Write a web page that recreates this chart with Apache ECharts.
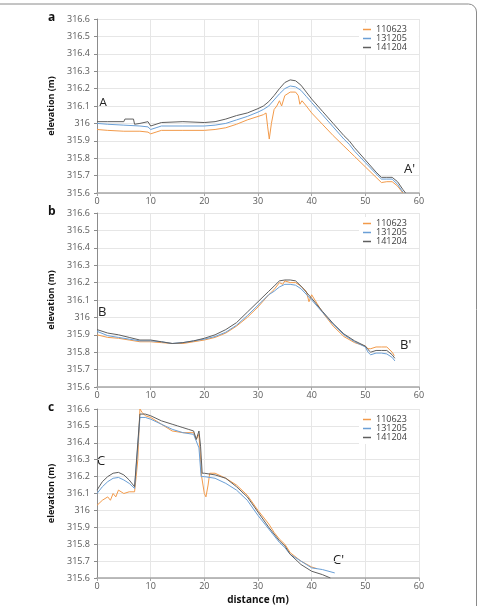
<!DOCTYPE html>
<html>
<head>
<meta charset="utf-8">
<script src="https://cdn.jsdelivr.net/npm/echarts@6/dist/echarts.min.js"></script>
<style>
  html, body { margin: 0; padding: 0; background: #fff; }
  #chart { width: 477px; height: 606px; }
</style>
</head>
<body>
<div id="chart"></div>
<script>
// series names (survey dates)
var names = ['110623', '131205', '141204'];
var colors = ['#f29a4a', '#6a9fd6', '#5f5f5f'];

// x axis ticks (distance, m) and y axis range (elevation, m)
var xTicks = [0, 10, 20, 30, 40, 50, 60];
var yMin = 315.6, yMax = 316.6, yStep = 0.1;

// profile A - A'  [distance, elevation]
var a110623 = [[0,315.965],[2,315.96],[5,315.955],[8,315.955],[9.5,315.95],[10,315.94],[11,315.95],[12,315.96],[16,315.96],[20,315.96],[22,315.965],[24,315.975],[26,315.995],[28,316.02],[30,316.04],[31,316.05],[31.5,316.06],[31.8,315.98],[32.1,315.91],[32.5,316.0],[33,316.08],[33.5,316.1],[34,316.13],[34.4,316.1],[35,316.16],[36,316.18],[37,316.18],[37.5,316.16],[37.8,316.11],[38.2,316.13],[39,316.1],[40,316.06],[42,315.995],[44,315.93],[46,315.87],[47,315.84],[48,315.81],[50,315.75],[52,315.69],[53,315.66],[54,315.665],[55,315.665],[56,315.64],[57,315.6]];
var a131205 = [[0,316.0],[2,315.995],[5,315.99],[8,315.985],[9.5,315.98],[10,315.965],[11,315.975],[12,315.985],[16,315.985],[20,315.985],[22,315.99],[24,316.0],[26,316.02],[28,316.04],[30,316.065],[31,316.08],[32,316.1],[33,316.135],[34,316.17],[35,316.2],[36,316.215],[37,316.21],[38,316.19],[39,316.155],[40,316.12],[42,316.05],[44,315.98],[46,315.91],[47,315.88],[48,315.84],[50,315.775],[52,315.71],[53,315.68],[54,315.68],[55,315.68],[56,315.65],[57,315.605]];
var a141204 = [[0,316.01],[2,316.01],[5,316.01],[5.2,316.025],[6.8,316.025],[7,315.995],[8,316.0],[9.5,316.01],[10,315.985],[11,315.995],[12,316.005],[16,316.01],[20,316.005],[22,316.01],[24,316.025],[26,316.045],[28,316.06],[30,316.085],[31,316.1],[32,316.125],[33,316.16],[34,316.2],[35,316.235],[36,316.25],[37,316.245],[38,316.22],[39,316.18],[40,316.14],[42,316.07],[44,316.0],[46,315.93],[47,315.9],[48,315.86],[50,315.79],[52,315.72],[53,315.69],[54,315.69],[55,315.69],[56,315.665],[57,315.62],[57.5,315.6]];

// profile B - B'
var b110623 = [[0,315.9],[2,315.885],[4,315.88],[6,315.87],[8,315.86],[10,315.86],[12,315.855],[14,315.85],[16,315.85],[18,315.86],[20,315.87],[22,315.885],[24,315.91],[26,315.95],[28,316.0],[30,316.06],[32,316.13],[33,316.16],[34,316.2],[34.6,316.19],[35,316.21],[36,316.2],[37,316.2],[38,316.18],[39,316.15],[39.5,316.09],[40,316.13],[41,316.08],[42,316.03],[44,315.95],[46,315.89],[48,315.855],[50,315.835],[50.5,315.82],[51,315.82],[52,315.83],[53,315.83],[54,315.83],[55,315.8],[55.4,315.78]];
var b131205 = [[0,315.92],[2,315.895],[4,315.885],[6,315.875],[8,315.865],[10,315.865],[12,315.86],[14,315.85],[16,315.855],[18,315.865],[20,315.875],[22,315.89],[24,315.915],[26,315.955],[28,316.01],[30,316.07],[32,316.13],[33,316.15],[34,316.175],[35,316.19],[36,316.19],[37,316.185],[38,316.165],[40,316.1],[42,316.03],[44,315.96],[46,315.9],[48,315.86],[50,315.83],[50.5,315.8],[51,315.785],[52,315.795],[53,315.795],[54,315.79],[55,315.77],[55.5,315.75]];
var b141204 = [[0,315.93],[2,315.91],[4,315.9],[6,315.885],[8,315.87],[10,315.87],[12,315.86],[14,315.85],[16,315.855],[18,315.865],[20,315.88],[22,315.9],[24,315.93],[26,315.97],[28,316.03],[30,316.09],[32,316.15],[33,316.18],[34,316.21],[35,316.215],[36,316.215],[37,316.21],[38,316.18],[40,316.11],[42,316.035],[44,315.965],[46,315.905],[48,315.865],[50,315.835],[50.5,315.815],[51,315.8],[52,315.81],[53,315.81],[54,315.81],[55,315.785],[55.5,315.765]];

// profile C - C'
var c110623 = [[0,316.03],[1,316.06],[2,316.08],[2.5,316.06],[3,316.1],[3.5,316.08],[4,316.12],[5,316.1],[6,316.11],[7,316.11],[7.3,316.2],[7.6,316.3],[8,316.6],[8.4,316.58],[9,316.56],[10,316.55],[12,316.51],[14,316.47],[16,316.46],[18,316.46],[18.5,316.42],[19,316.45],[19.5,316.2],[20,316.1],[20.3,316.08],[20.7,316.15],[21,316.22],[22,316.22],[24,316.19],[26,316.15],[28,316.09],[30,316.0],[32,315.92],[33,315.87],[34,315.83],[35,315.8],[36,315.75],[38,315.7],[40,315.665],[41,315.655]];
var c131205 = [[0,316.1],[1,316.14],[2,316.17],[3,316.19],[4,316.195],[5,316.18],[6,316.16],[7,316.13],[7.3,316.14],[8,316.55],[9,316.55],[10,316.54],[12,316.51],[14,316.48],[16,316.46],[18,316.45],[19,316.37],[19.4,316.2],[20,316.2],[22,316.19],[24,316.16],[26,316.12],[28,316.06],[30,315.97],[32,315.89],[34,315.81],[35,315.78],[36,315.74],[38,315.7],[40,315.66],[42,315.65],[44.3,315.63]];
var c141204 = [[0,316.12],[1,316.17],[2,316.2],[3,316.22],[4,316.225],[5,316.21],[6,316.18],[7,316.14],[7.2,316.13],[8,316.57],[9,316.57],[10,316.56],[12,316.53],[14,316.51],[15,316.5],[16,316.49],[17,316.48],[18,316.47],[18.5,316.42],[19,316.47],[19.3,316.38],[19.6,316.22],[20,316.22],[22,316.21],[24,316.19],[26,316.14],[28,316.08],[30,315.99],[32,315.9],[34,315.82],[35,315.79],[36,315.74],[38,315.68],[40,315.64],[42,315.62],[43.5,315.6]];

var panels = [
  { letter: 'a', top: 19, data: [a110623, a131205, a141204], start: 'A', end: "A'", sPos: [99, 97], ePos: [404, 163] },
  { letter: 'b', top: 213, data: [b110623, b131205, b141204], start: 'B', end: "B'", sPos: [98, 306], ePos: [400, 339] },
  { letter: 'c', top: 409, data: [c110623, c131205, c141204], start: 'C', end: "C'", sPos: [97, 455], ePos: [333, 554] }
];

var font = 'Open Sans';
var grids = [], xAxes = [], yAxes = [], series = [], legends = [], graphics = [];

// frame line round the figure (only its top and top-right corner show)
graphics.push({
  type: 'rect', silent: true,
  shape: { x: -10, y: 4, width: 486.5, height: 700, r: 8 },
  style: { fill: 'none', stroke: '#8a8a8a', lineWidth: 1 }
});

panels.forEach(function (p, i) {
  grids.push({ left: 97, width: 322, top: p.top, height: 174 });
  xAxes.push({
    type: 'value', gridIndex: i, min: xTicks[0], max: xTicks[xTicks.length - 1], interval: 10,
    name: i === 2 ? 'distance (m)' : '', nameLocation: 'middle', nameGap: 17,
    nameTextStyle: { fontFamily: font, fontWeight: 'bold', fontSize: 10, color: '#111' },
    axisLine: { lineStyle: { color: '#a6a6a6', width: 1.5 } },
    axisTick: { show: true, length: 3, lineStyle: { color: '#a6a6a6' } },
    axisLabel: { fontFamily: font, fontSize: 9, color: '#595959', margin: 4 },
    splitLine: { show: true, lineStyle: { color: '#e6e6e6' } }
  });
  yAxes.push({
    type: 'value', gridIndex: i, min: yMin, max: yMax, interval: yStep,
    name: 'elevation (m)', nameLocation: 'middle', nameGap: 40,
    nameTextStyle: { fontFamily: font, fontWeight: 'bold', fontSize: 9, color: '#111' },
    axisLine: { show: true, lineStyle: { color: '#8c8c8c' } },
    axisTick: { show: true, length: 3, lineStyle: { color: '#8c8c8c' } },
    axisLabel: { fontFamily: font, fontSize: 9, color: '#595959', margin: 7,
      formatter: function (v) { return String(+v.toFixed(1)); } },
    splitLine: { show: true, lineStyle: { color: '#e6e6e6' } }
  });
  p.data.forEach(function (d, k) {
    series.push({
      name: names[k], type: 'line', xAxisIndex: i, yAxisIndex: i, data: d,
      showSymbol: false, animation: false, z: 2 + k,
      lineStyle: { color: colors[k], width: 1 }, itemStyle: { color: colors[k] }
    });
  });
  legends.push({
    data: names, orient: 'vertical', left: 359, top: p.top + 4,
    itemWidth: 8, itemHeight: 1.5, itemGap: 0, icon: 'rect',
    backgroundColor: '#fff', padding: [2, 12, 2, 4], selectedMode: false,
    textStyle: { fontFamily: font, fontSize: 9, color: '#404040', lineHeight: 9 }
  });
  graphics.push({
    type: 'text', left: 48, top: p.top - 7,
    style: { text: p.letter, font: 'bold 12px "' + font + '"', fill: '#111' }
  });
  graphics.push({
    type: 'text', left: p.sPos[0], top: p.sPos[1],
    style: { text: p.start, font: '13px "' + font + '"', fill: '#222' }
  });
  graphics.push({
    type: 'text', left: p.ePos[0], top: p.ePos[1],
    style: { text: p.end, font: '13px "' + font + '"', fill: '#222' }
  });
});

var chart = echarts.init(document.getElementById('chart'), null, { renderer: 'canvas' });
chart.setOption({
  animation: false,
  backgroundColor: '#fff',
  grid: grids,
  xAxis: xAxes,
  yAxis: yAxes,
  legend: legends,
  series: series,
  graphic: graphics
});
</script>
</body>
</html>
